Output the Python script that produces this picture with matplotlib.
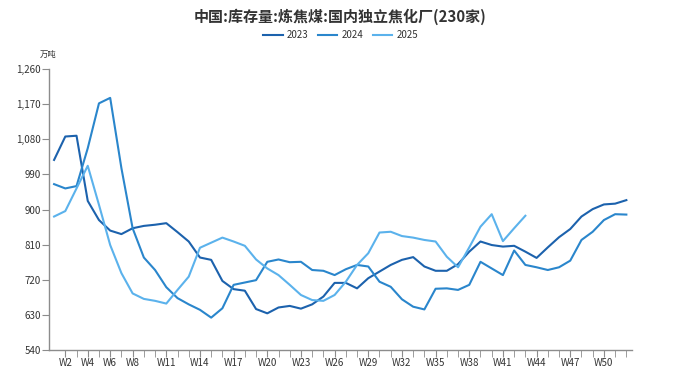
import matplotlib
matplotlib.use("Agg")
import matplotlib.pyplot as plt
import numpy as np

plt.rcParams['font.family'] = ['Noto Sans CJK SC', 'DejaVu Sans']

weeks = [f"W{i}" for i in range(1, 53)]

y2023 = [1027, 1087, 1089, 922, 873, 846, 837, 852, 858, 861,
         865, 842, 818, 777, 771, 717, 696, 692, 645, 634,
         649, 653, 646, 657, 677, 712, 712, 698, 724, 741,
         758, 771, 778, 754, 743, 743, 760, 792, 818, 809,
         805, 807, 792, 776, 803, 829, 850, 882, 901, 913,
         915, 924]
y2024 = [965, 954, 960, 1057, 1172, 1186, 1006, 852, 777, 745,
         701, 673, 657, 643, 623, 647, 707, 713, 719, 766,
         772, 765, 766, 745, 743, 732, 747, 758, 754, 715,
         702, 670, 651, 644, 697, 698, 694, 707, 766, 749,
         732, 795, 758, 752, 745, 752, 769, 822, 843, 873,
         888, 887]
y2025 = [882, 896, 954, 1012, 912, 809, 737, 685, 671, 666,
         659, 694, 728, 802, 815, 828, 818, 807, 772, 749,
         732, 707, 681, 668, 666, 681, 715, 758, 788, 841,
         843, 832, 828, 822, 818, 779, 752, 803, 856, 888,
         819, 852, 884]

series = {"2023": y2023, "2024": y2024, "2025": y2025}
colors = {"2023": "#1c62ad", "2024": "#2a86cc", "2025": "#5bb2ec"}

fig = plt.figure(figsize=(6.81, 3.78), dpi=100)
ax = fig.add_axes([0.072, 0.074, 0.856, 0.7435])

for name, vals in series.items():
    x = np.arange(1, len(vals) + 1)
    ax.plot(x, vals, color=colors[name], lw=1.5, label=name)

ax.set_xlim(0.55, 52.5)
ax.set_ylim(540, 1260)
ax.set_yticks(np.arange(540, 1261, 90))
ax.set_yticklabels([f"{v:,}" for v in range(540, 1261, 90)])

label_weeks = [2, 4, 6, 8, 11, 14, 17, 20, 23, 26, 29, 32, 35, 38, 41, 44, 47, 50]
ax.set_xticks(label_weeks)
ax.set_xticklabels([weeks[i - 1] for i in label_weeks])
ax.set_xticks(np.arange(2, 53), minor=True)

for s in ["top", "right"]:
    ax.spines[s].set_visible(False)
for s in ["left", "bottom"]:
    ax.spines[s].set_color("#8c8c8c")
    ax.spines[s].set_linewidth(1.0)

ax.tick_params(axis="y", length=5, color="#8c8c8c", labelsize=7, labelcolor="#333333", pad=1)
ax.tick_params(axis="x", which="both", length=5, color="#8c8c8c", labelsize=7,
               labelcolor="#333333", pad=1)

fig.text(0.5, 0.955, "中国:库存量:炼焦煤:国内独立焦化厂(230家)", ha="center", va="center",
         fontsize=10.8, fontweight="bold", color="#333333")
fig.text(0.059, 0.855, "万吨", ha="left", va="center", fontsize=6, color="#333333")

ax.legend(loc="center", bbox_to_anchor=(0.5, 0.907), bbox_transform=fig.transFigure,
          ncol=3, frameon=False, fontsize=7, handlelength=2.0, columnspacing=1.0,
          handletextpad=0.4, labelcolor="#333333")

fig.savefig("out.png", dpi=100)
